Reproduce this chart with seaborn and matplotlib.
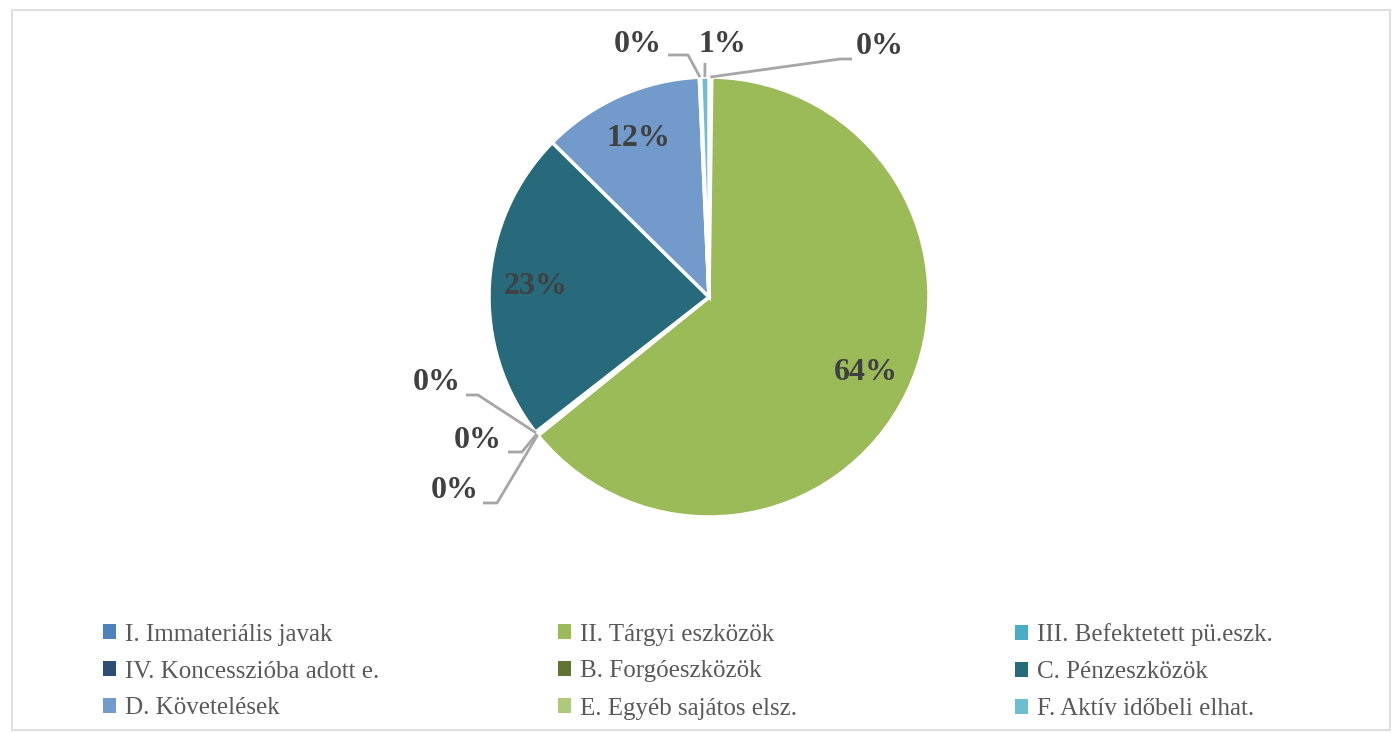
import numpy as np
import matplotlib
matplotlib.use("Agg")
import matplotlib.pyplot as plt
import seaborn as sns
from matplotlib.patches import Rectangle, Patch

# chart data
categories = ["I. Immateriális javak", "II. Tárgyi eszközök", "III. Befektetett pü.eszk.",
              "IV. Koncesszióba adott e.", "B. Forgóeszközök", "C. Pénzeszközök",
              "D. Követelések", "E. Egyéb sajátos elsz.", "F. Aktív időbeli elhat."]
shares = [0.2, 63.9, 0.1, 0.1, 0.1, 22.9, 11.9, 0.1, 0.6]
colors = ["#4F81BD", "#9BBB59", "#4BACC6", "#2C4D75", "#5F7530",
          "#276A7C", "#729ACA", "#AFC97A", "#6FBDD1"]

sns.set_style("white")
plt.rcParams['font.family'] = ['Liberation Serif', 'DejaVu Serif']

W, H = 1398, 733
fig = plt.figure(figsize=(W / 100, H / 100), dpi=100)
ax = fig.add_axes([0, 0, 1, 1])

cx, cy, R = 709, H - 297, 220
pal = sns.color_palette(colors)
wedges, _ = ax.pie(shares, colors=pal, startangle=90, counterclock=False,
                   center=(cx, cy), radius=R,
                   wedgeprops=dict(edgecolor="white", linewidth=2.5))
ax.set_xlim(0, W)
ax.set_ylim(0, H)
ax.set_aspect("equal")
ax.axis("off")

total = sum(shares)
pct = [f"{round(v / total * 100):.0f}%" for v in shares]
lab_kw = dict(fontsize=23, fontweight="bold", color="#404040", ha="center", va="center")

# big slices: labels inside
for i in [1, 5, 6]:
    w = wedges[i]
    a = np.deg2rad((w.theta1 + w.theta2) / 2)
    ax.text(cx + 0.79 * R * np.cos(a), cy + 0.79 * R * np.sin(a), pct[i], **lab_kw)

# small slices: labels outside with leader lines (elbow, end, text pos in px from top)
outside = {
    0: [(840, 59), (852, 59), (880, 47)],
    8: [(705, 63), (705, 63), (722, 45)],
    7: [(688, 55), (668, 55), (638, 45)],
    4: [(478, 395), (466, 395), (437, 383)],
    3: [(522, 452), (508, 452), (478, 440)],
    2: [(497, 503), (483, 503), (455, 490)],
}
for i, (elb, end, txt) in outside.items():
    w = wedges[i]
    a = np.deg2rad((w.theta1 + w.theta2) / 2)
    sx, sy = cx + R * np.cos(a), cy + R * np.sin(a)
    ax.plot([sx, elb[0], end[0]], [sy, H - elb[1], H - end[1]],
            color="#A6A6A6", lw=2, solid_capstyle="butt")
    ax.text(txt[0], H - txt[1], pct[i], **lab_kw)

# chart frame
fig.patches.append(Rectangle((12 / W, 3 / H), 1378 / W, (H - 13) / H,
                             transform=fig.transFigure, fill=False,
                             edgecolor="#D9D9D9", lw=1.2))

# legend: 3 columns filled row by row
handles = [Patch(facecolor=c, edgecolor="none") for c in pal]
col_x = [85, 540, 997]
for k, x0 in enumerate(col_x):
    idx = list(range(k, len(categories), 3))
    fig.legend([handles[i] for i in idx], [categories[i] for i in idx],
               loc="upper left", bbox_to_anchor=(x0 / W, 1 - 606 / H),
               frameon=False, fontsize=18, handlelength=0.55, handleheight=0.55,
               handletextpad=0.35, labelspacing=0.6, labelcolor="#595959",
               borderpad=0.2)

fig.savefig("out.png", dpi=100)
